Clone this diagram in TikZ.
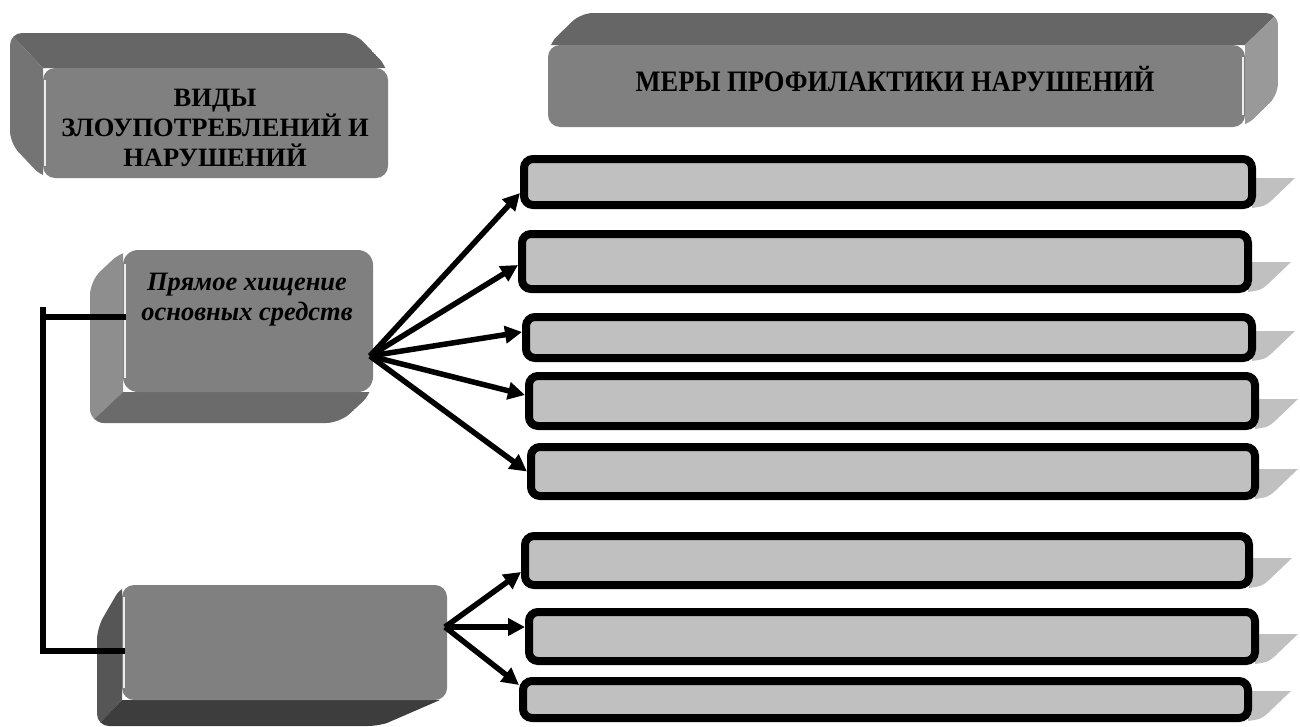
\documentclass[tikz,border=0pt]{standalone}
\usepackage{fontspec}
\setmainfont{Liberation Serif}
\usetikzlibrary{arrows.meta,calc,backgrounds}
\definecolor{faceg}{HTML}{808080}
\definecolor{topg}{HTML}{666666}
\definecolor{leftA}{HTML}{747474}
\definecolor{rightB}{HTML}{999999}
\definecolor{leftC}{HTML}{8E8E8E}
\definecolor{botC}{HTML}{6B6B6B}
\definecolor{leftD}{HTML}{565656}
\definecolor{botD}{HTML}{3D3D3D}
\definecolor{lightg}{HTML}{C0C0C0}
\begin{document}
\begin{tikzpicture}[x=1pt,y=-1pt,
  front/.style={fill=faceg, rounded corners=12pt, inner sep=0pt, outer sep=0pt},
  hilite/.style={white, line width=1.3pt, opacity=.85},
  ttl/.style={font=\fontsize{26.5}{30}\selectfont\bfseries, align=center, inner sep=0pt, text=black},
  mbox/.style={draw=black, line width=8pt, fill=lightg, rounded corners=9pt, inner sep=0pt, outer sep=0pt},
  shad/.style={fill=lightg},
  arr/.style={line width=5.5pt, -{Triangle[length=17pt,width=17pt]}},
  conn/.style={line width=5.5pt, line cap=rect}
]
\path[use as bounding box] (0,0) rectangle (1300,726);

% ---------- Box A
\begin{scope}
\clip[rounded corners=12pt] (10,33) -- (355,33) -- (388,68) -- (388,178) -- (43,178) -- (10,143) -- cycle;
\fill[topg] (10,33) -- (355,33) -- (388,68) -- (43,68) -- cycle;
\fill[leftA] (10,33) -- (43,68) -- (43,178) -- (10,143) -- cycle;
\end{scope}
\node[front, minimum width=345pt, minimum height=110pt] (ba) at (215.5,123) {};
\draw[hilite] ([xshift=2pt,yshift=-12pt]ba.north west) -- ([xshift=2pt,yshift=12pt]ba.south west);
\node[ttl] (ta) at (215,128) {ВИДЫ\\ЗЛОУПОТРЕБЛЕНИЙ И\\НАРУШЕНИЙ};

% ---------- Box B
\begin{scope}
\clip[rounded corners=12pt] (581,13) -- (1278,13) -- (1278,95) -- (1245,127) -- (548,127) -- (548,45) -- cycle;
\fill[topg] (581,13) -- (1278,13) -- (1245,45) -- (548,45) -- cycle;
\fill[rightB] (1278,13) -- (1278,95) -- (1245,127) -- (1245,45) -- cycle;
\end{scope}
\node[front, minimum width=697pt, minimum height=82pt] (bb) at (896.5,86) {};
\draw[hilite] ([xshift=-2pt,yshift=-12pt]bb.north east) -- ([xshift=-2pt,yshift=12pt]bb.south east);
\node[ttl] (tb) at (895,79) {\scalebox{1}[1.12]{МЕРЫ ПРОФИЛАКТИКИ НАРУШЕНИЙ}};

% ---------- Box C
\begin{scope}
\clip[rounded corners=14pt] (123,250) -- (373,250) -- (373,392) -- (340,423) -- (90,423) -- (90,281) -- cycle;
\fill[leftC] (123,250) -- (90,281) -- (90,423) -- (123,392) -- cycle;
\fill[botC] (123,392) -- (90,423) -- (340,423) -- (373,392) -- cycle;
\end{scope}
\node[front, rounded corners=15pt, minimum width=250pt, minimum height=142pt] (bc) at (248,321) {};
\draw[hilite] ([xshift=2pt,yshift=-14pt]bc.north west) -- ([xshift=2pt,yshift=14pt]bc.south west);
\node[ttl, font=\fontsize{26.5}{30}\selectfont\bfseries\itshape] (tc) at (247,300) {Прямое хищение\\основных средств};

% ---------- Box D
\begin{scope}
\clip[rounded corners=12pt] (122,585) -- (447,585) -- (447,700) -- (380,726) -- (97,726) -- (97,628) -- cycle;
\fill[leftD] (122,585) -- (97,625) -- (97,726) -- (122,700) -- cycle;
\fill[botD] (122,700) -- (97,726) -- (380,726) -- (440,700) -- cycle;
\end{scope}
\node[front, minimum width=325pt, minimum height=115pt] (bd) at (284.5,642.5) {};
\draw[hilite] ([xshift=2pt,yshift=-12pt]bd.north west) -- ([xshift=2pt,yshift=12pt]bd.south west);

% ---------- Right boxes
\node[mbox, minimum width=728pt, minimum height=46pt] (r1) at (888,182) {};
\node[mbox, minimum width=726pt, minimum height=55pt] (r2) at (885,261.5) {};
\node[mbox, minimum width=726pt, minimum height=41pt] (r3) at (889,337.5) {};
\node[mbox, minimum width=726pt, minimum height=50pt] (r4) at (892,401) {};
\node[mbox, minimum width=724pt, minimum height=49pt] (r5) at (893,471.5) {};
\node[mbox, minimum width=724pt, minimum height=49pt] (r6) at (887,560.5) {};
\node[mbox, minimum width=726pt, minimum height=49pt] (r7) at (892,636.5) {};
\node[mbox, minimum width=725pt, minimum height=37pt] (r8) at (885.5,699.5) {};

\begin{scope}[on background layer]
\foreach \r in {r1,r2,r3,r4,r5,r6,r7,r8}{
  \fill[shad] ($(\r.south east)+(0,-27)$) -- ($(\r.south east)+(43,-27)$) -- ($(\r.south east)+(20,-5)$)
     .. controls ($(\r.south east)+(13,1)$) .. ($(\r.south east)+(0,3)$) -- cycle;
}
\end{scope}

% ---------- Connectors
\coordinate (cC) at ([xshift=-3pt,yshift=-35pt]bc.east);
\coordinate (cD) at ([xshift=-2pt,yshift=15.5pt]bd.east);
\draw[arr] (cC) -- ([xshift=-4pt,yshift=-11pt]r1.west);
\draw[arr] (cC) -- ([xshift=-4pt,yshift=-3.5pt]r2.west);
\draw[arr] (cC) -- ([xshift=-4pt,yshift=5.5pt]r3.west);
\draw[arr] (cC) -- ([xshift=-4pt,yshift=6pt]r4.west);
\draw[arr] (cC) -- ([xshift=-4pt,yshift=0pt]r5.west);
\draw[arr] (cD) -- ([xshift=-4pt,yshift=-11.5pt]r6.west);
\draw[arr] (cD) -- ([xshift=-4pt,yshift=9.5pt]r7.west);
\draw[arr] (cD) -- ([xshift=-4pt,yshift=14.5pt]r8.west);

\coordinate (ktop) at (43,310);
\coordinate (kmid) at (43,317);
\coordinate (kbot) at (43,651);
\draw[conn] (ktop) -- (kbot) -- ([yshift=-8.5pt]bd.west);
\draw[conn] ([yshift=4pt]bc.west) -- (kmid);
\end{tikzpicture}
\end{document}
